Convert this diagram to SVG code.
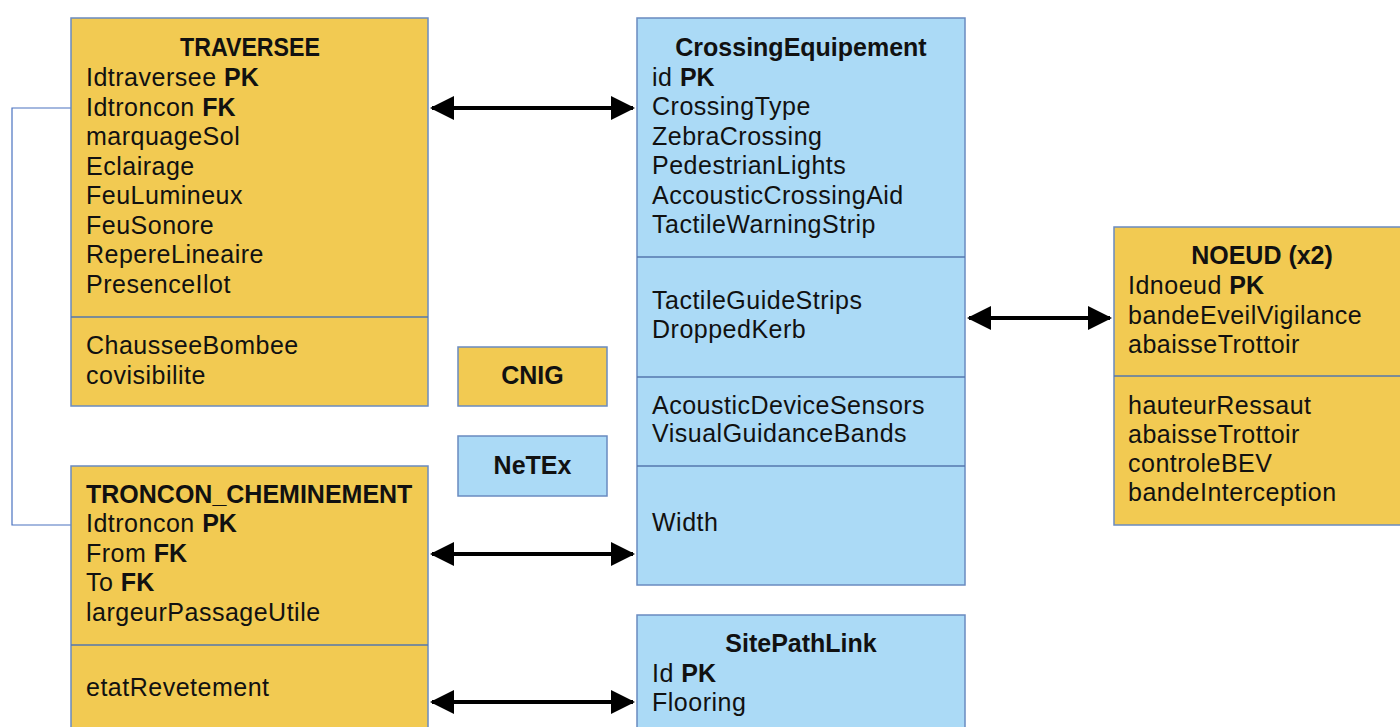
<svg xmlns="http://www.w3.org/2000/svg" width="1400" height="727" viewBox="0 0 1400 727">
<defs>
<style>
.y{fill:#F2CA52;stroke:#6A8BC0;stroke-width:1.5}
.b{fill:#ABDAF6;stroke:#6A8BC0;stroke-width:1.5}
.d{stroke:#5577AE;stroke-width:1.5;fill:none}
text{font-family:"Liberation Sans",Arial,sans-serif;font-size:25px;fill:#111;letter-spacing:0.5px}
.t{font-weight:bold;letter-spacing:0}
.c{text-anchor:middle}
tspan.k{font-weight:bold;letter-spacing:0}
.a{stroke:#000;stroke-width:4;fill:none;marker-start:url(#ah);marker-end:url(#ah)}
</style>
<marker id="ah" viewBox="0 0 12 12" refX="11" refY="6" markerWidth="6" markerHeight="6" orient="auto-start-reverse" markerUnits="strokeWidth">
<path d="M0,0 L12,6 L0,12 Z" fill="#000"/>
</marker>
</defs>
<rect width="1400" height="727" fill="#fff"/>

<g id="connectors">
<path d="M71,108 H12 V525 H71" fill="none" stroke="#4A72C0" stroke-width="1.2"/>
<line class="a" x1="432" y1="108" x2="633" y2="108"/>
<line class="a" x1="432" y1="554" x2="633" y2="554"/>
<line class="a" x1="432" y1="702" x2="633" y2="702"/>
<line class="a" x1="969" y1="318" x2="1110" y2="318"/>
</g>

<g id="traversee">
<rect class="y" x="71" y="18" width="357" height="388"/>
<line class="d" x1="71" y1="317" x2="428" y2="317"/>
<text class="t c" x="250" y="56" textLength="140" lengthAdjust="spacingAndGlyphs">TRAVERSEE</text>
<text x="86" y="86">Idtraversee <tspan class="k">PK</tspan></text>
<text x="86" y="115.5">Idtroncon <tspan class="k">FK</tspan></text>
<text x="86" y="145">marquageSol</text>
<text x="86" y="174.5">Eclairage</text>
<text x="86" y="204">FeuLumineux</text>
<text x="86" y="233.5">FeuSonore</text>
<text x="86" y="263">RepereLineaire</text>
<text x="86" y="292.5">PresenceIlot</text>
<text x="86" y="354">ChausseeBombee</text>
<text x="86" y="384">covisibilite</text>
</g>

<g id="troncon">
<rect class="y" x="71" y="466" width="357" height="275"/>
<line class="d" x1="71" y1="645" x2="428" y2="645"/>
<text class="t" x="86" y="503">TRONCON_CHEMINEMENT</text>
<text x="86" y="532">Idtroncon <tspan class="k">PK</tspan></text>
<text x="86" y="562">From <tspan class="k">FK</tspan></text>
<text x="86" y="591">To <tspan class="k">FK</tspan></text>
<text x="86" y="621">largeurPassageUtile</text>
<text x="86" y="696">etatRevetement</text>
</g>

<g id="cnig">
<rect class="y" x="458" y="347" width="149" height="59"/>
<text class="t c" x="532.5" y="384">CNIG</text>
</g>

<g id="netex">
<rect class="b" x="458" y="436" width="149" height="60"/>
<text class="t c" x="532.5" y="474">NeTEx</text>
</g>

<g id="crossing">
<rect class="b" x="637" y="18" width="328" height="567"/>
<line class="d" x1="637" y1="257" x2="965" y2="257"/>
<line class="d" x1="637" y1="377" x2="965" y2="377"/>
<line class="d" x1="637" y1="466" x2="965" y2="466"/>
<text class="t c" x="801" y="56">CrossingEquipement</text>
<text x="652" y="86">id <tspan class="k">PK</tspan></text>
<text x="652" y="115">CrossingType</text>
<text x="652" y="145">ZebraCrossing</text>
<text x="652" y="174">PedestrianLights</text>
<text x="652" y="204">AccousticCrossingAid</text>
<text x="652" y="233">TactileWarningStrip</text>
<text x="652" y="309">TactileGuideStrips</text>
<text x="652" y="338">DroppedKerb</text>
<text x="652" y="414">AcousticDeviceSensors</text>
<text x="652" y="442">VisualGuidanceBands</text>
<text x="652" y="531">Width</text>
</g>

<g id="sitepathlink">
<rect class="b" x="637" y="615" width="328" height="126"/>
<text class="t c" x="801" y="652">SitePathLink</text>
<text x="652" y="682">Id <tspan class="k">PK</tspan></text>
<text x="652" y="711">Flooring</text>
</g>

<g id="noeud">
<rect class="y" x="1114" y="227" width="300" height="298"/>
<line class="d" x1="1114" y1="376" x2="1414" y2="376"/>
<text class="t c" x="1262" y="264">NOEUD (x2)</text>
<text x="1128" y="294">Idnoeud <tspan class="k">PK</tspan></text>
<text x="1128" y="324">bandeEveilVigilance</text>
<text x="1128" y="353">abaisseTrottoir</text>
<text x="1128" y="414">hauteurRessaut</text>
<text x="1128" y="443">abaisseTrottoir</text>
<text x="1128" y="472">controleBEV</text>
<text x="1128" y="501">bandeInterception</text>
</g>
</svg>
